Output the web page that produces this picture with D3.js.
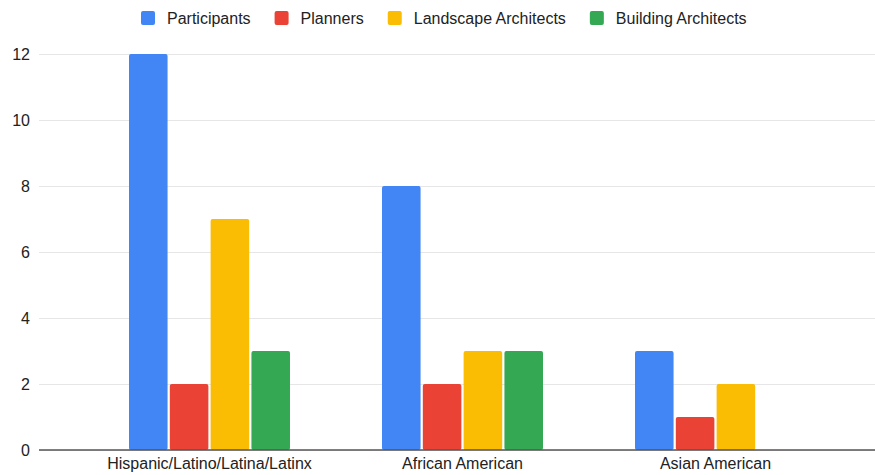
<!DOCTYPE html>
<html>
<head>
<meta charset="utf-8">
<script src="https://cdn.jsdelivr.net/npm/d3@7"></script>
<style>
  body { margin: 0; background: #fff; }
  text { font-family: "Liberation Sans", Arial, sans-serif; }
</style>
</head>
<body>
<div id="content"></div>
<script>
// chart data
const categories = ["Hispanic/Latino/Latina/Latinx", "African American", "Asian American"];
const seriesNames = ["Participants", "Planners", "Landscape Architects", "Building Architects"];
const participants = [12, 8, 3];
const planners = [2, 2, 1];
const landscapeArchitects = [7, 3, 2];
const buildingArchitects = [3, 3, 0];
const yTicks = [0, 2, 4, 6, 8, 10, 12];
const colors = ["#4285f4", "#ea4335", "#fbbc04", "#34a853"];

const width = 875;
const height = 475;
const gridLeft = 39;
const plotLeft = 83;
const plotRight = 842;
const baseY = 450;
const topY = 54;

const seriesValues = [participants, planners, landscapeArchitects, buildingArchitects];
const rows = categories.map((c, i) => ({
    category: c,
    values: seriesNames.map((s, j) => ({ series: s, idx: j, value: seriesValues[j][i] }))
}));

const svg = d3.select('#content').append('svg').attr('width', width).attr('height', height);

const yScale = d3.scaleLinear().domain([0, 12]).range([baseY, topY]);
const xScale = d3.scaleBand().domain(categories).range([plotLeft, plotRight]).padding(0);
const groupWidth = 161;
const innerScale = d3.scaleBand().domain(seriesNames).range([0, groupWidth]).paddingInner(0.055);

// gridlines + y labels
const yAxis = d3.axisLeft(yScale).tickValues(yTicks).tickSize(-(width - gridLeft)).tickPadding(9);
const yG = svg.append('g').attr('transform', `translate(${gridLeft},0)`).call(yAxis);
yG.select('.domain').remove();
yG.selectAll('.tick line').attr('stroke', '#e6e6e6').attr('stroke-width', 1);
yG.selectAll('.tick text').attr('fill', '#222').style('font-size', '16px');

// bars
const groups = svg.selectAll('.group').data(rows).enter().append('g')
    .attr('class', 'group')
    .attr('transform', d => `translate(${xScale(d.category) + (xScale.bandwidth() - groupWidth) / 2},0)`);

groups.selectAll('rect').data(d => d.values.filter(v => v.value > 0)).enter().append('rect')
    .attr('x', d => innerScale(d.series))
    .attr('y', d => yScale(d.value))
    .attr('width', innerScale.bandwidth())
    .attr('height', d => baseY - yScale(d.value))
    .attr('rx', 2)
    .attr('fill', d => colors[d.idx]);

// baseline
svg.append('line')
    .attr('x1', gridLeft).attr('x2', width)
    .attr('y1', yScale(0)).attr('y2', yScale(0))
    .attr('stroke', '#555').attr('stroke-width', 1.3);

// x labels
const xAxis = d3.axisBottom(xScale).tickSize(0).tickPadding(8);
const xG = svg.append('g').attr('transform', `translate(0,${baseY})`).call(xAxis);
xG.select('.domain').remove();
xG.selectAll('.tick text').attr('fill', '#222').style('font-size', '16px');

// legend
const legend = svg.append('g');
let lx = 141;
seriesNames.forEach((name, i) => {
    legend.append('rect')
        .attr('x', lx).attr('y', 11).attr('width', 14).attr('height', 14)
        .attr('rx', 2).attr('fill', colors[i]);
    const t = legend.append('text')
        .attr('x', lx + 26).attr('y', 24)
        .attr('fill', '#222').style('font-size', '16px')
        .text(name);
    lx += 26 + t.node().getComputedTextLength() + 24;
});
</script>
</body>
</html>
